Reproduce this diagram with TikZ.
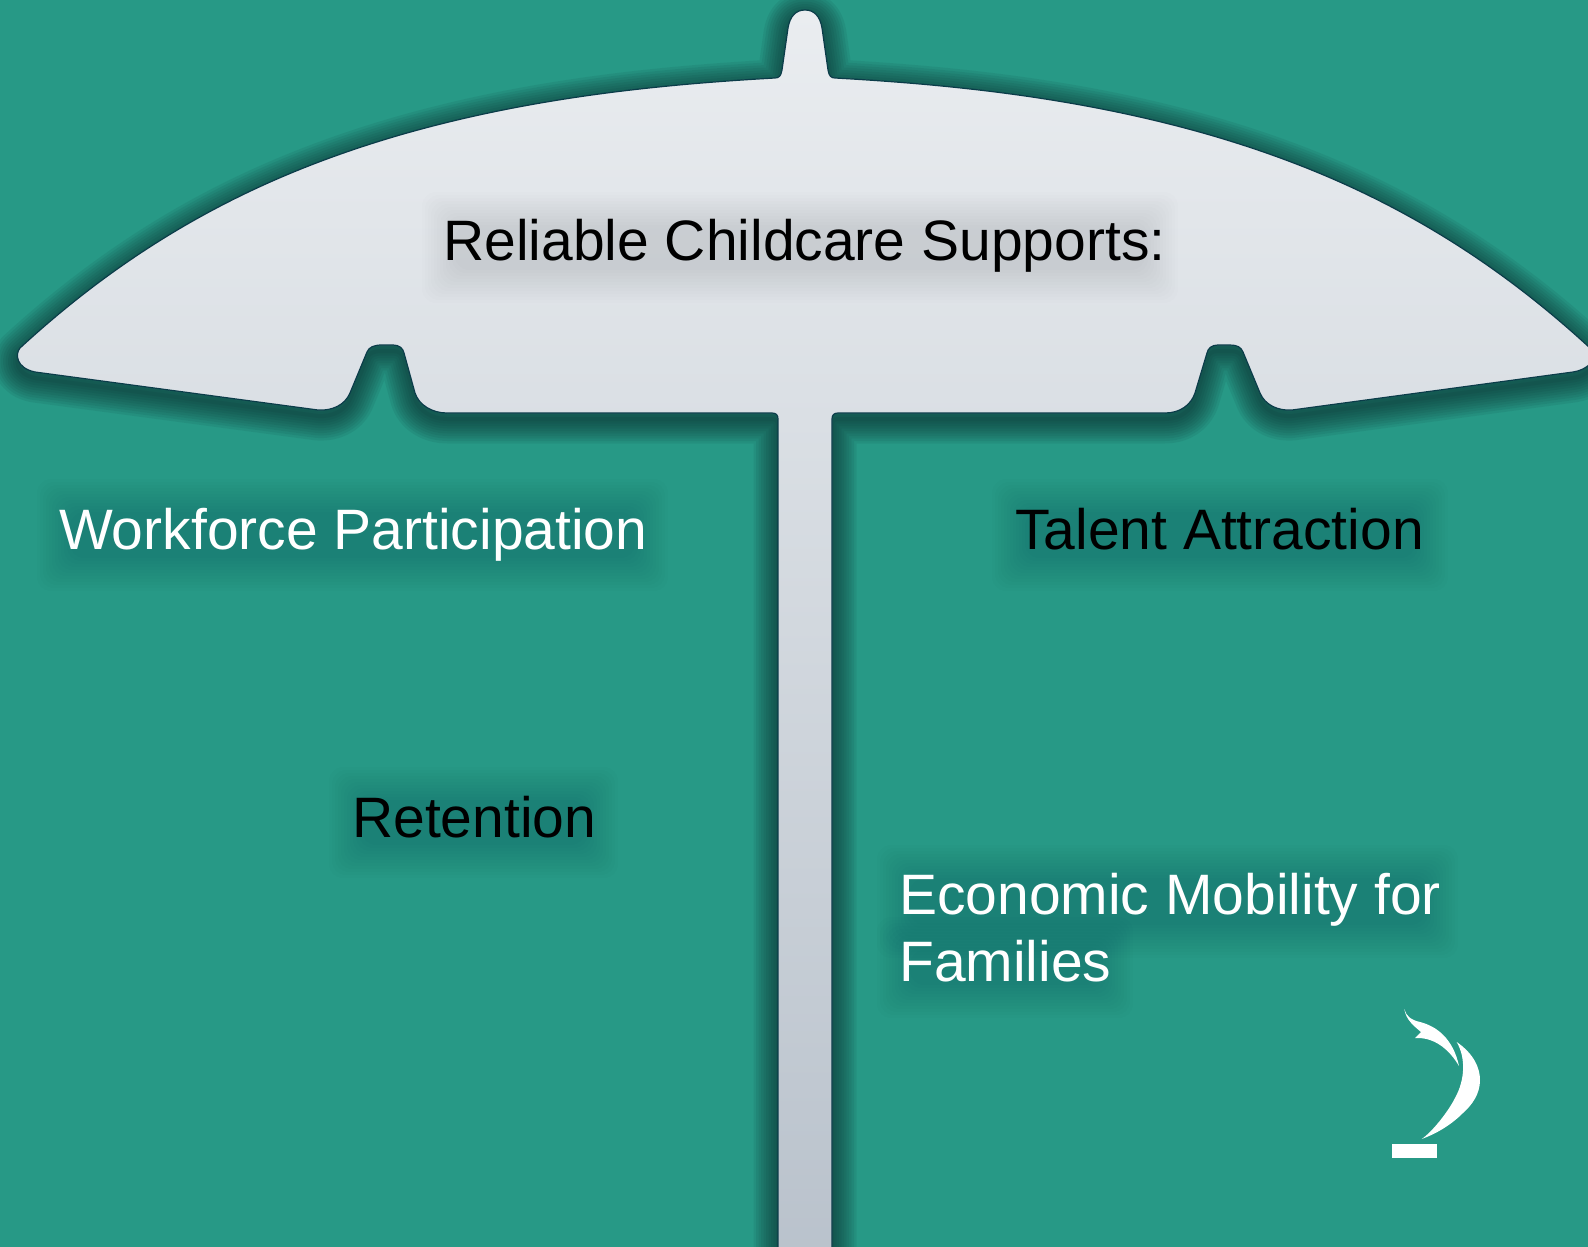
\documentclass[tikz,border=0pt]{standalone}
\usepackage{fontspec}
\setmainfont{Liberation Sans}
\definecolor{teal0}{HTML}{279986}
\definecolor{rim}{HTML}{0B3C49}
\definecolor{shadow0}{HTML}{0A2528}
\definecolor{canopytop}{HTML}{EAEDF0}
\definecolor{canopymid}{HTML}{D5D9DE}
\definecolor{canopybot}{HTML}{B8C1CB}
\tikzstyle{label} = [font=\fontsize{57}{67}\selectfont, inner sep=0pt, align=left, anchor=base west]
\tikzstyle{halo} = [rounded corners=14pt, fill=black, opacity=0.009]
\tikzstyle{glow} = [draw=shadow0, line join=round, opacity=0.08, yshift=-6pt]
\newcommand{\canopy}{(775,78)
  .. controls (650,85) and (525,99) .. (400,135)
  .. controls (273,172) and (147,231) .. (20,348)
  .. controls (15,354) and (16,368) .. (35,372)
  -- (318,410) .. controls (332,411) and (345,405) .. (350,393)
  -- (367,352) .. controls (369,347) and (374,345) .. (382,345)
  -- (393,345) .. controls (399,345) and (403,348) .. (404,353)
  -- (415,393) .. controls (419,405) and (432,413) .. (447,413)
  -- (772,413) .. controls (776,413) and (778,415) .. (778,419)
  -- (778,1290) -- (832,1290) -- (832,419)
  .. controls (832,415) and (834,413) .. (838,413)
  -- (1165,413) .. controls (1180,413) and (1191,405) .. (1195,393)
  -- (1207,353) .. controls (1208,348) and (1212,345) .. (1218,345)
  -- (1230,345) .. controls (1237,345) and (1241,347) .. (1243,352)
  -- (1260,393) .. controls (1265,405) and (1278,411) .. (1292,410)
  -- (1573,372) .. controls (1580,371) and (1586,368) .. (1590,364)
  -- (1600,356) -- (1590,348)
  .. controls (1463,231) and (1337,172) .. (1210,135)
  .. controls (1085,99) and (960,85) .. (835,78)
  .. controls (831,78) and (829,76) .. (828,70)
  -- (822,28) .. controls (820,16) and (814,10) .. (805,10)
  .. controls (796,10) and (790,16) .. (788,28)
  -- (782,70) .. controls (781,76) and (779,78) .. (775,78) -- cycle}
% blurred box behind a text
\newcommand{\halo}[4]{\foreach \g in {0,3,...,33}
  \fill[halo] ({#1-\g},{#2-\g}) rectangle ({#3+\g},{#4+\g});}

\begin{document}
\begin{tikzpicture}[x=1pt, y=-1pt]
\useasboundingbox (0,0) rectangle (1588,1247);
\fill[teal0] (0,0) rectangle (1588,1247);

\begin{scope}
\clip (0,0) rectangle (1588,1247);
\foreach \w in {4,9,...,49}
  \draw[glow, line width=\w pt] \canopy;
\shade[top color=canopytop, middle color=canopymid, bottom color=canopybot] \canopy;
\draw[rim, line width=1.2pt] \canopy;
\end{scope}

\halo{455}{225}{1145}{270}
\halo{70}{512}{635}{558}
\halo{1025}{512}{1415}{558}
\halo{362}{800}{585}{845}
\halo{910}{878}{1425}{925}
\halo{910}{950}{1100}{985}

\node(reliable)  [label, black] at (443,260) {Reliable Childcare Supports:};
\node(workforce) [label, white] at (59,549)  {Workforce Participation};
\node(talent)    [label, black] at (1015,549) {Talent Attraction};
\node(retention) [label, black] at (352,837) {Retention};
\node(economic)  [label, white] at (899,981) {Economic Mobility for\\Families};

% logo
\fill[white] (1392.3,1144.3) rectangle (1437.3,1158);
\fill[white] (1456.7,1042) .. controls (1474,1054) and (1480,1068) .. (1480,1080)
  .. controls (1480,1094) and (1472,1105) .. (1463,1113)
  .. controls (1452,1124) and (1438,1133) .. (1421.7,1139)
  .. controls (1432,1132) and (1448,1112) .. (1455,1098)
  .. controls (1465,1080) and (1466,1058) .. (1456.7,1042) -- cycle;
\fill[white] (1404.3,1009) .. controls (1406,1016) and (1411,1020) .. (1420,1022)
  .. controls (1436,1026) and (1453,1038) .. (1459,1066)
  .. controls (1452,1054) and (1442,1044) .. (1430,1040)
  .. controls (1424,1038) and (1420,1038) .. (1415,1038)
  -- (1421,1032) .. controls (1414,1026) and (1406,1020) .. (1404.3,1009) -- cycle;
\end{tikzpicture}
\end{document}
